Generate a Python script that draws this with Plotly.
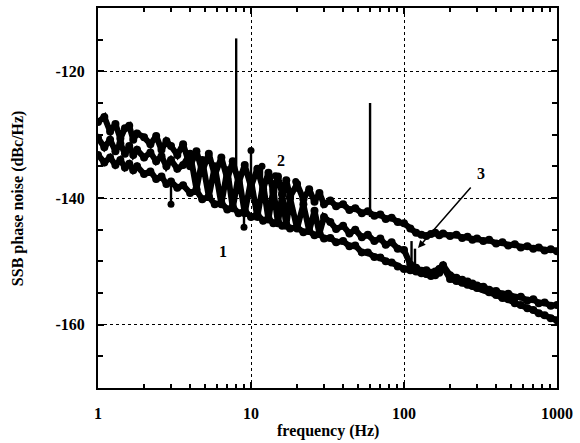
import numpy as np
import plotly.graph_objects as go

# frequency points (Hz), shared by the three traces
freq = [1.0, 1.1, 1.2, 1.3, 1.4, 1.5, 1.6, 1.7, 1.8, 2.0, 2.2, 2.4, 2.6, 2.8, 3.0, 3.3, 3.6,
        4.0, 4.4, 4.8, 5.3, 5.8, 6.4, 7.0, 7.6, 8.3, 9.1,
        10, 11, 12, 13, 14, 15, 16, 17, 18, 20, 22, 24, 26, 28, 30, 33, 36,
        40, 44, 48, 53, 58, 64, 70, 76, 83, 91,
        100, 110, 120, 130, 140, 150, 160, 170, 180, 200, 220, 240, 260, 280, 300, 330, 360,
        400, 440, 480, 530, 580, 640, 700, 760, 830, 910, 1000]

# curve 2 (upper)
noise2 = [-128.0, -127.2, -129.5, -128.3, -130.6, -129.0, -128.6, -130.8, -129.8, -130.4, -131.5,
          -130.2, -132.4, -131.0, -131.8, -133.2, -131.5,
          -135.0, -132.6, -135.8, -133.0, -136.4, -133.6, -137.0, -134.2, -137.6, -134.8,
          -138.2, -135.4, -138.6, -136.0, -139.0, -136.6, -139.4, -137.2, -139.8, -137.8,
          -140.2, -138.6, -140.6, -139.2, -141.0, -140.4, -141.3,
          -141.0, -141.9, -141.6, -142.4, -142.1, -142.8, -142.6, -143.3, -143.1, -143.8,
          -144.0, -144.8, -145.5, -145.8, -146.0, -145.7, -145.5, -145.9, -145.6, -146.0, -145.8,
          -146.3, -146.1, -146.6, -146.4, -146.8, -146.6,
          -147.2, -147.0, -147.5, -147.3, -147.8, -147.6, -148.0, -147.8, -148.3, -148.1, -148.4]

# curve 3 (middle, joins curve 1 above ~110 Hz)
noise3 = [-130.5, -132.0, -130.8, -132.6, -131.4, -133.0, -131.8, -133.2, -132.4, -133.6, -132.8,
          -134.2, -133.4, -135.0, -134.0, -135.4, -134.8,
          -133.0, -138.6, -134.0, -139.8, -135.0, -141.0, -135.6, -141.6, -136.4, -142.4,
          -137.2, -143.0, -137.8, -143.4, -138.6, -144.0, -139.4, -144.4, -140.0, -144.8,
          -141.0, -145.2, -142.0, -145.6, -143.0, -143.8, -144.9,
          -144.4, -145.6, -145.0, -146.2, -145.8, -146.8, -146.4, -147.4, -147.0, -148.0,
          -148.2, -150.5, -151.0, -151.5, -151.4, -151.8, -151.6, -151.2, -150.6, -152.2, -152.6,
          -152.9, -153.2, -153.5, -153.8, -154.0, -154.5,
          -154.7, -155.2, -155.1, -155.7, -155.6, -156.2, -156.0, -156.6, -156.5, -157.0, -156.9]

# curve 1 (lower)
noise1 = [-133.2, -134.4, -133.6, -134.8, -134.0, -135.2, -134.6, -135.6, -135.0, -136.2, -135.8,
          -137.0, -136.6, -137.8, -137.4, -138.4, -138.0,
          -139.2, -138.8, -140.2, -139.8, -141.0, -140.8, -141.8, -141.4, -142.4, -142.0,
          -143.0, -142.6, -143.6, -143.2, -144.0, -143.8, -144.4, -144.2, -144.8, -144.6,
          -145.4, -145.2, -145.9, -145.7, -146.4, -146.3, -147.0,
          -146.8, -147.6, -147.5, -148.6, -148.6, -149.3, -149.4, -150.0, -150.2, -150.8,
          -151.2, -151.4, -151.6, -151.9, -152.0, -152.3, -152.2, -151.8, -150.9, -152.8, -153.1,
          -153.4, -153.7, -153.9, -154.2, -154.4, -154.9,
          -155.3, -155.8, -156.0, -156.6, -156.9, -157.4, -157.7, -158.2, -158.5, -159.0, -159.3]

# narrow lines (hum / vibration peaks)
spike_f = [8, 60, 112, 118]
spike_lo = [-137.0, -143.0, -151.0, -151.5]
spike_hi = [-114.8, -125.0, -146.8, -148.0]

# peaks ending with a dot
lolli_f = [10, 11.8, 14.4, 19.6, 3.0, 9.0]
lolli_lo = [-137.0, -137.5, -138.0, -139.0, -138.0, -142.5]
lolli_hi = [-132.5, -135.0, -136.5, -137.4, -141.0, -144.6]

labels = ["1", "2", "3"]
label_f = [6.56, 15.7, 318]
label_db = [-148.4, -134.1, -136.2]

x_ticks = [1, 10, 100, 1000]
y_ticks = [-120, -140, -160]

FONT = "Liberation Serif"

fig = go.Figure()
for vals in [noise2, noise3, noise1]:
    fig.add_trace(go.Scatter(x=freq, y=vals, mode="lines+markers",
                             line=dict(color="black", width=6),
                             marker=dict(color="black", size=8)))

sx, sy = [], []
for f, lo, hi in zip(spike_f + lolli_f, spike_lo + lolli_lo, spike_hi + lolli_hi):
    sx += [f, f, None]
    sy += [lo, hi, None]
fig.add_trace(go.Scatter(x=sx, y=sy, mode="lines", line=dict(color="black", width=2.4)))
fig.add_trace(go.Scatter(x=lolli_f, y=lolli_hi, mode="markers",
                         marker=dict(color="black", size=7)))

for t, f, d in zip(labels, label_f, label_db):
    fig.add_annotation(x=np.log10(f), y=d, text="<b>%s</b>" % t, showarrow=False,
                       font=dict(family=FONT, size=16, color="black"))
# arrow pointing at curve 3
fig.add_annotation(x=np.log10(123.5), y=-147.9, text="", showarrow=True,
                   ax=54, ay=-62, arrowhead=2, arrowsize=1, arrowwidth=1.5, arrowcolor="black")

minor_x = [m * d for d in [1, 10, 100] for m in range(2, 10)]

fig.update_xaxes(type="log", range=[0, 3], tickvals=x_ticks,
                 ticktext=["<b>%d</b>" % v for v in x_ticks],
                 ticks="inside", ticklen=6, tickwidth=1.5, tickcolor="black",
                 minor=dict(tickvals=minor_x, ticks="inside", ticklen=4, tickcolor="black",
                            showgrid=False),
                 showgrid=True, gridcolor="black", griddash="dot", gridwidth=1.3,
                 showline=True, linecolor="black", linewidth=2, mirror="ticks",
                 ticklabelstandoff=10, automargin=False,
                 tickfont=dict(family=FONT, size=16, color="black"),
                 zeroline=False)
fig.update_yaxes(range=[-170, -110], tickvals=y_ticks,
                 ticktext=["<b>%d</b>" % v for v in y_ticks],
                 ticks="inside", ticklen=6, tickwidth=1.5, tickcolor="black",
                 minor=dict(dtick=5, ticks="inside", ticklen=5, tickcolor="black",
                            showgrid=False),
                 showgrid=True, gridcolor="black", griddash="dot", gridwidth=1.3,
                 showline=True, linecolor="black", linewidth=2, mirror="ticks",
                 ticklabelstandoff=8, automargin=False,
                 tickfont=dict(family=FONT, size=16, color="black"),
                 zeroline=False)

fig.add_annotation(xref="paper", yref="paper", x=0.5, y=-0.113, text="<b>frequency (Hz)</b>",
                   showarrow=False, yanchor="middle",
                   font=dict(family=FONT, size=16, color="black"))
fig.add_annotation(xref="paper", yref="paper", x=-0.174, y=0.5,
                   text="<b>SSB phase noise (dBc/Hz)</b>", textangle=-90,
                   showarrow=False, xanchor="center",
                   font=dict(family=FONT, size=16, color="black"))

fig.update_layout(width=580, height=443, showlegend=False,
                  plot_bgcolor="white", paper_bgcolor="white",
                  margin=dict(l=98, r=23, t=8, b=55))

# page body margin would shift the figure by 8 px
fig.write_html("out.html", config={"displayModeBar": False},
               post_script="document.body.style.margin='0';")
